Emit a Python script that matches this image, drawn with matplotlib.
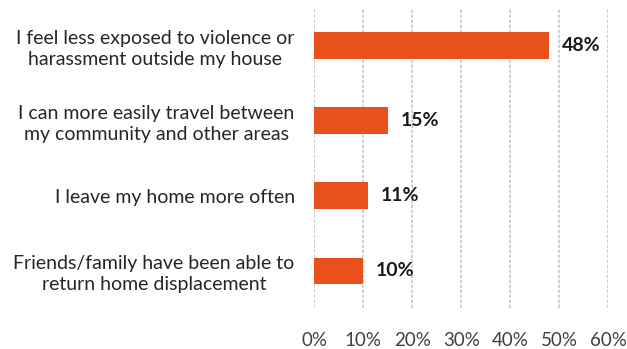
import numpy as np
import matplotlib.pyplot as plt

plt.rcParams['font.family'] = ['Lato', 'DejaVu Sans']

categories = [
    "I feel less exposed to violence or\nharassment outside my house",
    "I can more easily travel between\nmy community and other areas",
    "I leave my home more often",
    "Friends/family have been able to\nreturn home displacement",
]
values = [48, 15, 11, 10]
ticks = [0, 10, 20, 30, 40, 50, 60]

fig = plt.figure(figsize=(6.27, 3.49), dpi=100)
ax = fig.add_axes([0.501, 0.117, 0.469, 0.860])

y = np.arange(len(categories))
ax.barh(y, values, height=0.35, color="#E8501C", zorder=3)

for yi, v in zip(y, values):
    ax.text(v + 2.6, yi, f"{v}%", va="center", ha="left",
            fontsize=14, fontweight="bold", color="#1a1a1a")

ax.set_xlim(0, 60)
ax.set_ylim(len(categories) - 0.5, -0.5)
ax.set_xticks(ticks)
ax.set_xticklabels([f"{t}%" for t in ticks], fontsize=13.5, color="#404040")
ax.set_yticks(y)
ax.set_yticklabels(categories, fontsize=14, color="#262626", ha="right",
                   multialignment="center", linespacing=1.3)
ax.tick_params(axis="y", length=0, pad=14)
ax.tick_params(axis="x", length=0, pad=17)
ax.xaxis.grid(True, color="#c8c8c8", linestyle=(0, (2, 1)), linewidth=1.2, zorder=0)
for s in ax.spines.values():
    s.set_visible(False)

fig.savefig("out.png", dpi=100)
